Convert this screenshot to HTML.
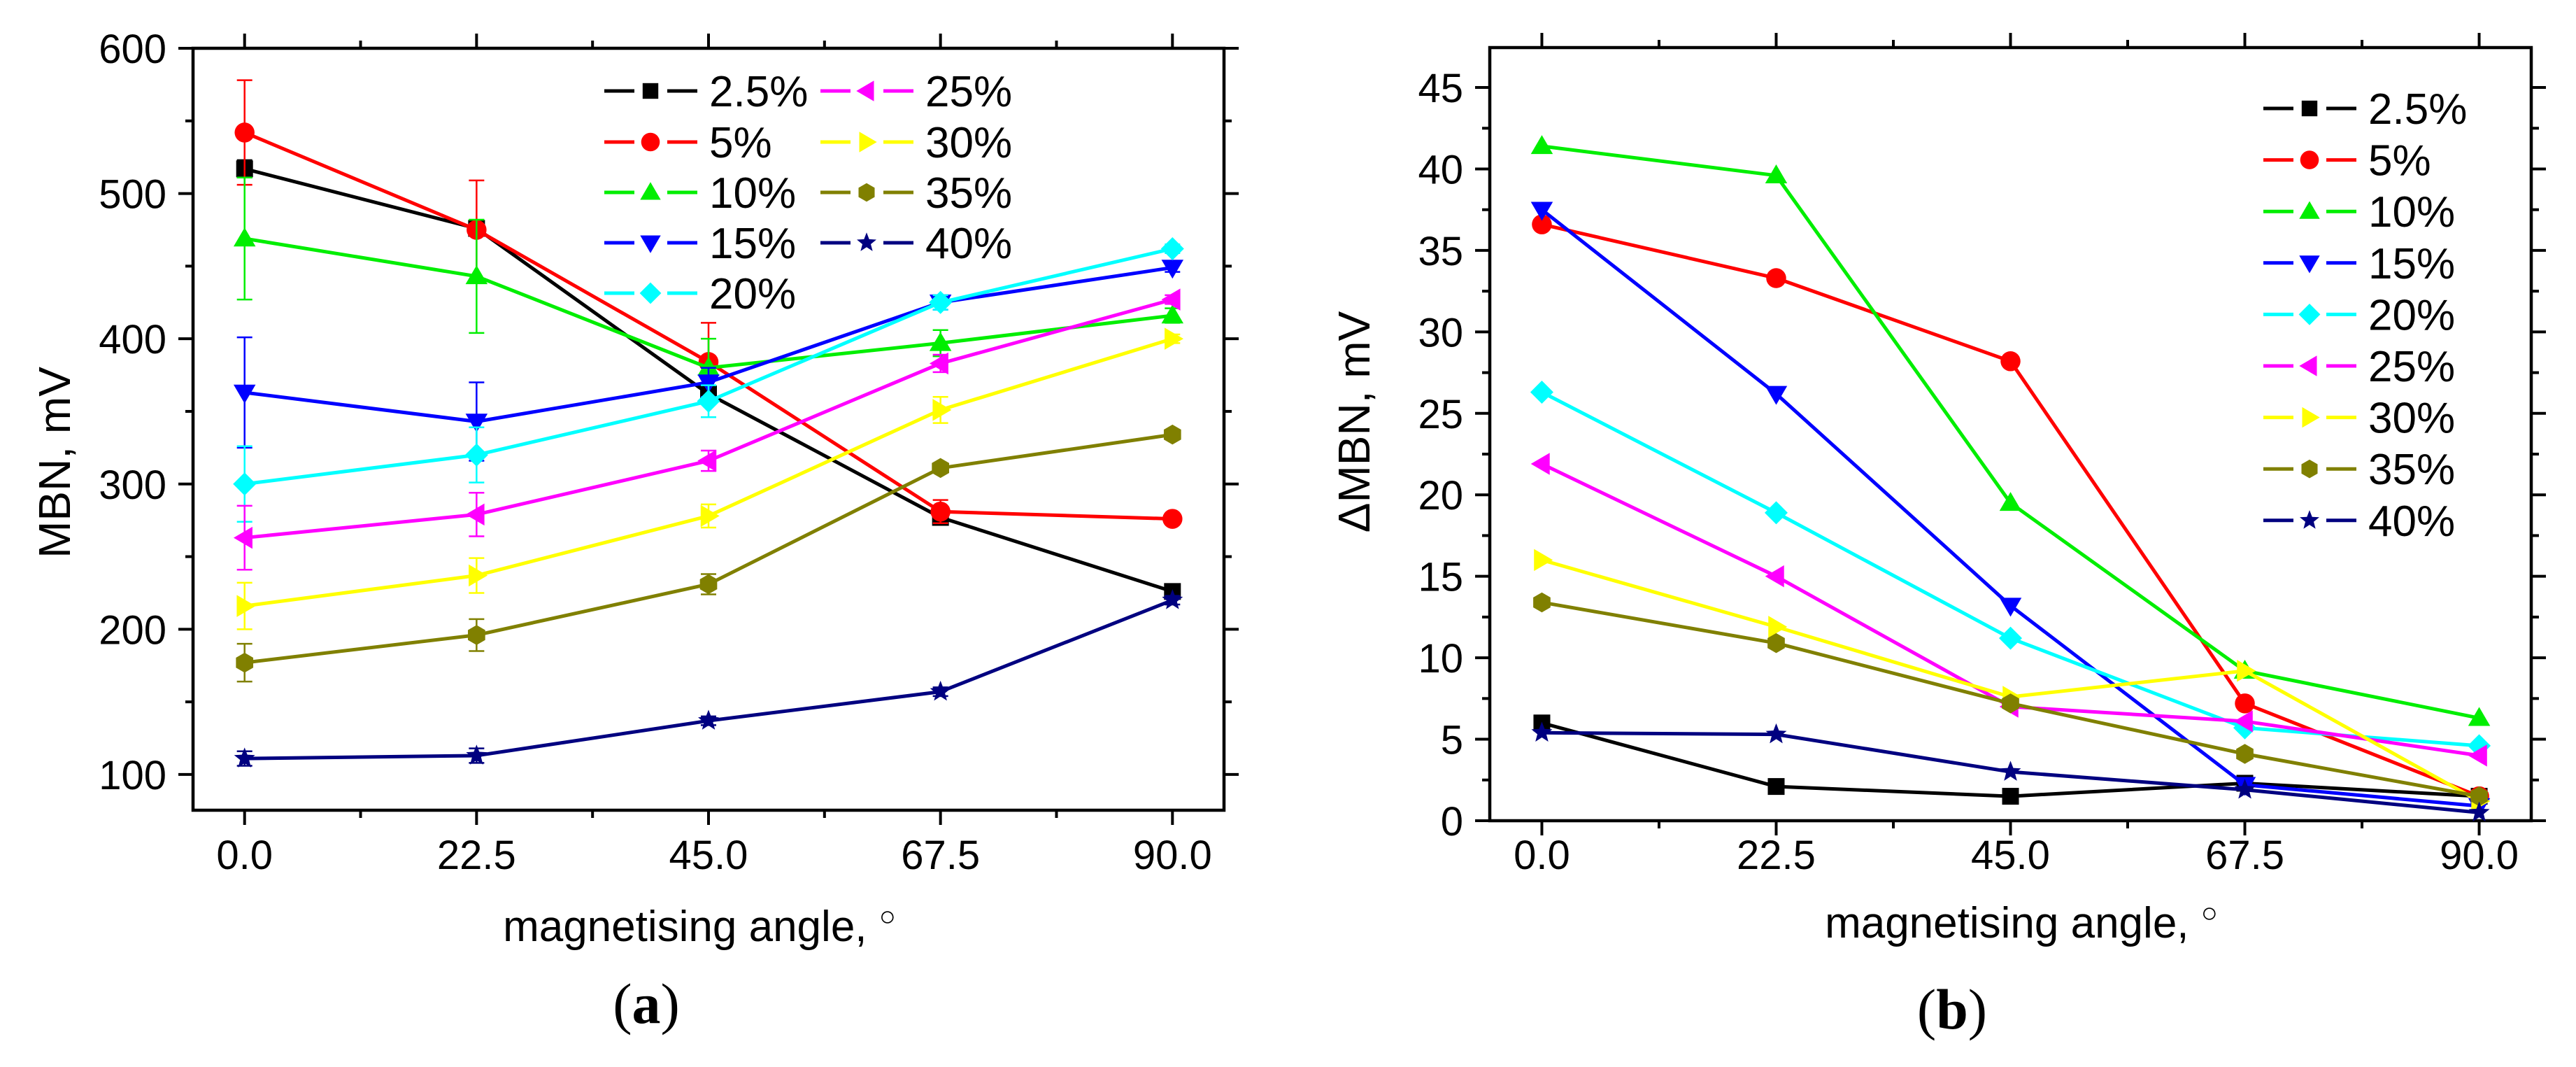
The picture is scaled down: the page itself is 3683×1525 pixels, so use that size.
<!DOCTYPE html>
<html><head><meta charset="utf-8"><style>
html,body{margin:0;padding:0;background:#fff;}
svg{display:block;}
text{font-family:"Liberation Sans",sans-serif;}
</style></head><body>
<svg id="fig" width="3683" height="1525" viewBox="0 0 3683 1525" xmlns="http://www.w3.org/2000/svg"></svg>
<script>
const angles = [0, 22.5, 45, 67.5, 90];
const seriesNames = ["2.5%","5%","10%","15%","20%","25%","30%","35%","40%"];
const colors = ["#000000","#ff0000","#00ee00","#0000ff","#00ffff","#ff00ff","#ffff00","#808000","#000080"];
const markers = ["square","circle","tri-up","tri-down","diamond","tri-left","tri-right","hexagon","star"];
const mbn25 = [517, 476, 362, 277, 226];
const mbn5 = [542, 475, 384, 281, 276];
const mbn10 = [469, 443, 380, 397, 416];
const mbn15 = [363, 343, 370, 425, 449];
const mbn20 = [300, 320, 357, 425, 462];
const mbn25p = [263, 279, 316, 383, 427];
const mbn30 = [216, 237, 278, 351, 400];
const mbn35 = [177, 196, 231, 311, 334];
const mbn40 = [111, 113, 137, 157, 220];
const err25 = [6, 5, 5, 5, 3];
const err5 = [36, 34, 27, 8, 3];
const err10 = [42, 39, 20, 9, 5];
const err15 = [38, 27, 10, 5, 3];
const err20 = [26, 19, 11, 5, 3];
const err25p = [22, 15, 7, 6, 3];
const err30 = [16, 12, 8, 9, 3];
const err35 = [13, 11, 7, 3, 3];
const err40 = [5, 5, 3, 3, 3];
const dmbn25 = [6.0, 2.1, 1.5, 2.3, 1.5];
const dmbn5 = [36.6, 33.3, 28.2, 7.2, 1.5];
const dmbn10 = [41.4, 39.6, 19.5, 9.2, 6.3];
const dmbn15 = [37.5, 26.2, 13.2, 2.2, 0.9];
const dmbn20 = [26.3, 18.9, 11.2, 5.7, 4.6];
const dmbn25p = [21.9, 15.0, 7.0, 6.1, 4.0];
const dmbn30 = [16.0, 11.9, 7.6, 9.2, 1.2];
const dmbn35 = [13.4, 10.9, 7.2, 4.1, 1.5];
const dmbn40 = [5.4, 5.3, 3.0, 1.9, 0.5];
const xTickLabels = ["0.0","22.5","45.0","67.5","90.0"];
const yTicksA = [100,200,300,400,500,600];
const yTicksB = [0,5,10,15,20,25,30,35,40,45];

const mbnA = [mbn25,mbn5,mbn10,mbn15,mbn20,mbn25p,mbn30,mbn35,mbn40];
const errA = [err25,err5,err10,err15,err20,err25p,err30,err35,err40];
const mbnB = [dmbn25,dmbn5,dmbn10,dmbn15,dmbn20,dmbn25p,dmbn30,dmbn35,dmbn40];

const NS="http://www.w3.org/2000/svg";
const svg=document.getElementById('fig');
function mk(tag,attrs,parent){const e=document.createElementNS(NS,tag);for(const k in attrs)e.setAttribute(k,attrs[k]);(parent||svg).appendChild(e);return e;}

function markerShape(g,type,cx,cy,color,s){
  let e;
  const r=s;
  if(type==="square") e=mk('rect',{x:cx-r*0.8,y:cy-r*0.8,width:r*1.6,height:r*1.6,fill:color},g);
  else if(type==="circle") e=mk('circle',{cx:cx,cy:cy,r:r*0.95,fill:color},g);
  else {
    let pts=[];
    if(type==="tri-up") pts=[[0,-1.05],[1.05,0.75],[-1.05,0.75]];
    else if(type==="tri-down") pts=[[0,1.05],[1.05,-0.75],[-1.05,-0.75]];
    else if(type==="tri-left") pts=[[-1.05,0],[0.75,-1.05],[0.75,1.05]];
    else if(type==="tri-right") pts=[[1.05,0],[-0.75,-1.05],[-0.75,1.05]];
    else if(type==="diamond") pts=[[0,-1.1],[1.1,0],[0,1.1],[-1.1,0]];
    else if(type==="hexagon"){for(let i=0;i<6;i++){const a=Math.PI/6+i*Math.PI/3;pts.push([Math.cos(a)*0.95,Math.sin(a)*0.95]);}}
    else if(type==="star"){for(let i=0;i<10;i++){const a=-Math.PI/2+i*Math.PI/5;const rr=i%2?0.45:1.05;pts.push([Math.cos(a)*rr,Math.sin(a)*rr]);}}
    e=mk('polygon',{points:pts.map(p=>(cx+p[0]*r)+','+(cy+p[1]*r)).join(' '),fill:color},g);
  }
  return e;
}

function drawPanel(cfg){
  const {id,L,R,T,B,xd,yd,yTicks,yMinorStep,data,errs,ytitle,ytitleX,ytitleY,xtitleX,xtitleY,panelLabel,plX,plY}=cfg;
  const sx=v=>L+(v-xd[0])/(xd[1]-xd[0])*(R-L);
  const sy=v=>B-(v-yd[0])/(yd[1]-yd[0])*(B-T);
  const g=mk('g',{});
  
  
  const frame=mk('rect',{x:L,y:T,width:R-L,height:B-T,fill:'none',stroke:'#000','stroke-width':4.5},g);
  
  
  for(let i=0;i<=8;i++){
    const v=i*11.25, x=sx(v), major=i%2===0, len=major?21:11;
    mk('line',{x1:x,y1:B,x2:x,y2:B+len,stroke:'#000','stroke-width':4},g);
    mk('line',{x1:x,y1:T,x2:x,y2:T-len,stroke:'#000','stroke-width':4},g);
  }
  angles.forEach((a,i)=>{
    const t=mk('text',{x:sx(a),y:1242,'font-size':58,'text-anchor':'middle'},g);
    t.textContent=xTickLabels[i];
    
    
  });
  for(let v=Math.ceil(yd[0]/yMinorStep)*yMinorStep; v<=yd[1]; v+=yMinorStep){
    const y=sy(v), major=yTicks.indexOf(Math.round(v*100)/100)>=0, len=major?21:11;
    mk('line',{x1:L,y1:y,x2:L-len,y2:y,stroke:'#000','stroke-width':4},g);
    mk('line',{x1:R,y1:y,x2:R+len,y2:y,stroke:'#000','stroke-width':4},g);
  }
  yTicks.forEach(v=>{
    const t=mk('text',{x:L-38,y:sy(v)+21,'font-size':58,'text-anchor':'end'},g);
    t.textContent=String(v);
    
    
  });
  const yt=mk('text',{x:ytitleX,y:ytitleY,'font-size':64,'text-anchor':'middle',transform:`rotate(-90 ${ytitleX} ${ytitleY})`},g);
  yt.textContent=ytitle;
  
  
  const xt=mk('text',{x:xtitleX,y:xtitleY,'font-size':62,'text-anchor':'middle'},g);
  xt.textContent='magnetising angle, ';
  const deg=mk('tspan',{'font-size':40,dy:-22},xt);
  deg.textContent='\u25CB';
  
  
  const pl=mk('text',{x:plX,y:plY,'font-size':82,'text-anchor':'middle',style:'font-family:"Liberation Serif",serif'},g);
  pl.textContent='(';
  const pb=mk('tspan',{'font-weight':'bold'},pl); pb.textContent=panelLabel;
  const pe=mk('tspan',{},pl); pe.textContent=')';
  
  
  data.forEach((vals,si)=>{
    const sg=mk('g',{},g);
    
    
    const col=colors[si];
    if(errs){
      vals.forEach((v,i)=>{
        const e=errs[si][i], x=sx(angles[i]);
        const eb=mk('path',{d:`M${x},${sy(v-e)}V${sy(v+e)}M${x-11},${sy(v-e)}H${x+11}M${x-11},${sy(v+e)}H${x+11}`,stroke:col,'stroke-width':2.5,fill:'none'},sg);
        
        
      });
    }
    const pl2=mk('polyline',{points:vals.map((v,i)=>sx(angles[i])+','+sy(v)).join(' '),fill:'none',stroke:col,'stroke-width':5,'stroke-linejoin':'round'},sg);
    
    
    vals.forEach((v,i)=>{
      const m=markerShape(sg,markers[si],sx(angles[i]),sy(v),col,15);
      
      
    });
  });
}

function legend(id,entries){
  const lg=mk('g',{});
  
  
  entries.forEach(en=>{
    const si=en.si, col=colors[si];
    const eg=mk('g',{},lg);
    
    
    mk('line',{x1:en.x,y1:en.y,x2:en.x+43,y2:en.y,stroke:col,'stroke-width':5},eg);
    mk('line',{x1:en.x+90,y1:en.y,x2:en.x+133,y2:en.y,stroke:col,'stroke-width':5},eg);
    markerShape(eg,markers[si],en.x+66,en.y,col,14);
    const t=mk('text',{x:en.x+150,y:en.y+22,'font-size':62},eg);
    t.textContent=seriesNames[si];
  });
}

drawPanel({id:'mbn',L:276,R:1750,T:69,B:1158,xd:[-5,95],yd:[75.4,600],yTicks:yTicksA,yMinorStep:50,
  data:mbnA,errs:errA,ytitle:'MBN, mV',ytitleX:100,ytitleY:661,xtitleX:1000,xtitleY:1345,panelLabel:'a',plX:924,plY:1462});
drawPanel({id:'dmbn',L:2130,R:3619,T:68,B:1173,xd:[-5,95],yd:[0,47.45],yTicks:yTicksB,yMinorStep:2.5,
  data:mbnB,errs:null,ytitle:'\u0394MBN, mV',ytitleX:1958,ytitleY:603,xtitleX:2890,xtitleY:1340,panelLabel:'b',plX:2791,plY:1470});

const legA=[];
[130,203,275,347,419].forEach((y,i)=>legA.push({si:i,x:864,y:y}));
[130,203,275,347].forEach((y,i)=>legA.push({si:5+i,x:1173,y:y}));
legend('mbn',legA);
const legB=[];
for(let i=0;i<9;i++) legB.push({si:i,x:3236,y:155+i*73.6});
legend('dmbn',legB);
</script>
</body></html>
